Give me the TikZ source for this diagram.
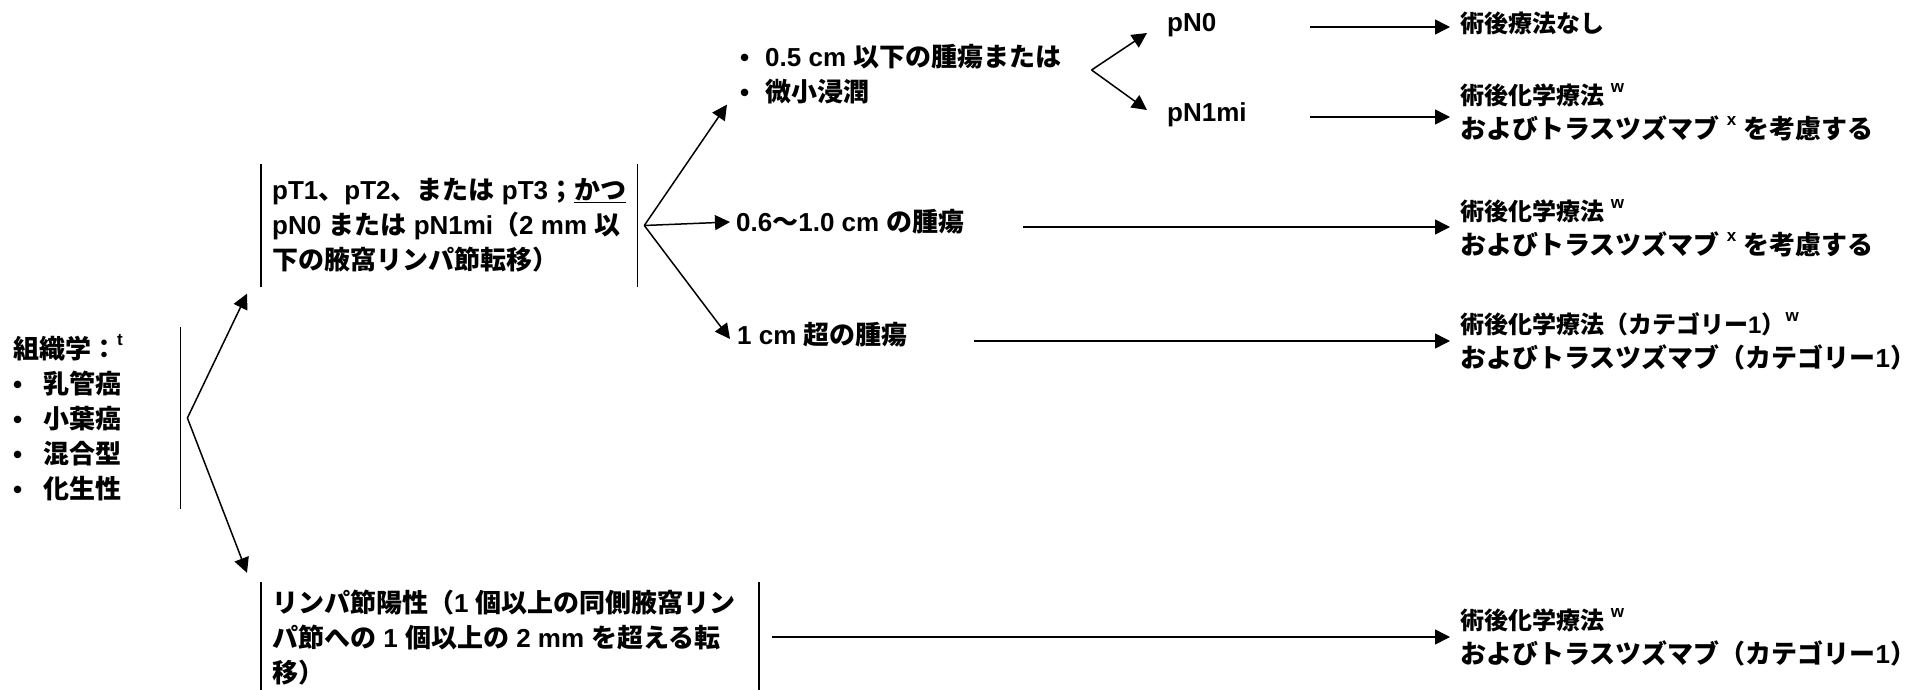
\documentclass[tikz,border=0pt]{standalone}
\usepackage{fontspec}
\setmainfont{Liberation Sans}
\newfontfamily\latinfont{Liberation Sans}
\newfontfamily\jpfont{Noto Sans CJK JP}
\usetikzlibrary{arrows.meta}

% Latin text in Liberation Sans, Japanese in Noto Sans CJK JP
\XeTeXinterchartokenstate=1
\newXeTeXintercharclass\jpclass
\newcount\jpcode
\def\jprange#1#2{\jpcode=#1\relax
  \loop\XeTeXcharclass\jpcode=\jpclass
  \ifnum\jpcode<#2\relax\advance\jpcode by 1\repeat}
\jprange{"3000}{"30FF}
\jprange{"4E00}{"9FFF}
\jprange{"FF00}{"FFEF}
\XeTeXinterchartoks 0 \jpclass = {\jpfont}
\XeTeXinterchartoks 4095 \jpclass = {\jpfont}
\XeTeXinterchartoks \jpclass 0 = {\latinfont}
\XeTeXinterchartoks \jpclass 4095 = {\latinfont}

\newcommand\fnm[1]{\raisebox{0.5em}{\fontsize{17}{17}\selectfont #1}}
\newcommand\rsz{\fontsize{24}{30}\selectfont}

\begin{document}
\begin{tikzpicture}[x=1pt,y=-1pt,
    txt/.style={font=\bfseries\fontsize{26}{35}\selectfont, inner sep=0pt, align=left},
    box/.style={txt, inner xsep=11pt},
    arr/.style={line width=1.5pt, -{Triangle[length=15pt,width=15pt]}},
    bar/.style={line width=1.5pt}]

        \useasboundingbox (0,0) rectangle (1923,690);

        % Histology
        \node[txt, anchor=west, text width=167pt, minimum height=182pt] (hist) at (13,418)
            {組織学：\fnm{t}\\
             \makebox[30pt][l]{•}乳管癌\\
             \makebox[30pt][l]{•}小葉癌\\
             \makebox[30pt][l]{•}混合型\\
             \makebox[30pt][l]{•}化生性};
        \draw[bar] (hist.north east) -- (hist.south east);

        % Stage boxes
        \node[box, anchor=west, minimum height=122pt] (stage) at (261,225.5)
            {pT1、pT2、または pT3；\underline{かつ}\\
             pN0 または pN1mi（2 mm 以\\
             下の腋窩リンパ節転移）};
        \draw[bar] (stage.north west) -- (stage.south west);
        \draw[bar] (stage.north east) -- (stage.south east);

        \node[box, anchor=west, minimum height=112pt] (nodepos) at (261,638)
            {リンパ節陽性（1 個以上の同側腋窩リン\hspace*{12pt}\\
             パ節への 1 個以上の 2 mm を超える転\\
             移）};
        \draw[bar] (nodepos.north west) -- (nodepos.south west);
        \draw[bar] (nodepos.north east) -- (nodepos.south east);

        % Tumour size
        \node[txt, anchor=west] (small) at (740,74.5)
            {\makebox[25pt][l]{•}0.5 cm 以下の腫瘍または\\
             \makebox[25pt][l]{•}微小浸潤};
        \node[txt, anchor=west] (mid) at (736,222) {0.6〜1.0 cm の腫瘍};
        \node[txt, anchor=west] (big) at (737,335) {1 cm 超の腫瘍};

        \node[txt, anchor=west] (pnzero) at (1167,25) {pN0};
        \node[txt, anchor=west] (pnmi) at (1167,115) {pN1mi};

        % Treatment
        \node[txt, anchor=west] (rnone) at (1460,23) {\rsz 術後療法なし};
        \node[txt, anchor=west] (rconsa) at (1460,112.5)
            {{\rsz 術後化学療法 \fnm{w}}\\[-1pt]
             およびトラスツズマブ \fnm{x} を考慮する};
        \node[txt, anchor=west] (rconsb) at (1460,228)
            {{\rsz 術後化学療法 \fnm{w}}\\[-1pt]
             およびトラスツズマブ \fnm{x} を考慮する};
        \node[txt, anchor=west] (rcat) at (1460,341)
            {{\rsz 術後化学療法（カテゴリー1）\fnm{w}}\\[-1pt]
             およびトラスツズマブ（カテゴリー1）};
        \node[txt, anchor=west] (rpos) at (1460,637.5)
            {{\rsz 術後化学療法 \fnm{w}}\\[-1pt]
             およびトラスツズマブ（カテゴリー1）};

        % Branches
        \coordinate (fa) at ([xshift=7]hist.east);
        \draw[arr] (fa) -- ([shift={(-14,7)}]stage.south west);
        \draw[arr] (fa) -- ([shift={(-14,-9)}]nodepos.north west);

        \coordinate (fb) at ([xshift=7]stage.east);
        \draw[arr] (fb) -- ([xshift=-13]small.south west);
        \draw[arr] (fb) -- ([xshift=-6]mid.west);
        \draw[arr] (fb) -- ([shift={(-7,4)}]big.west);

        \coordinate (fc) at ([shift={(30,-4.5)}]small.east);
        \draw[arr] (fc) -- ([shift={(-20,8)}]pnzero.west);
        \draw[arr] (fc) -- ([shift={(-20,-5)}]pnmi.west);

        \coordinate (sa) at (1310,27);
        \coordinate (sb) at (1310,117);
        \coordinate (sc) at (1023,227);
        \coordinate (sd) at (974,341);
        \coordinate (se) at (772,637);
        \draw[arr, shorten >=10pt] (sa) -- (sa -| rnone.west);
        \draw[arr, shorten >=10pt] (sb) -- (sb -| rconsa.west);
        \draw[arr, shorten >=10pt] (sc) -- (sc -| rconsb.west);
        \draw[arr, shorten >=10pt] (sd) -- (sd -| rcat.west);
        \draw[arr, shorten >=10pt] (se) -- (se -| rpos.west);

\end{tikzpicture}
\end{document}
